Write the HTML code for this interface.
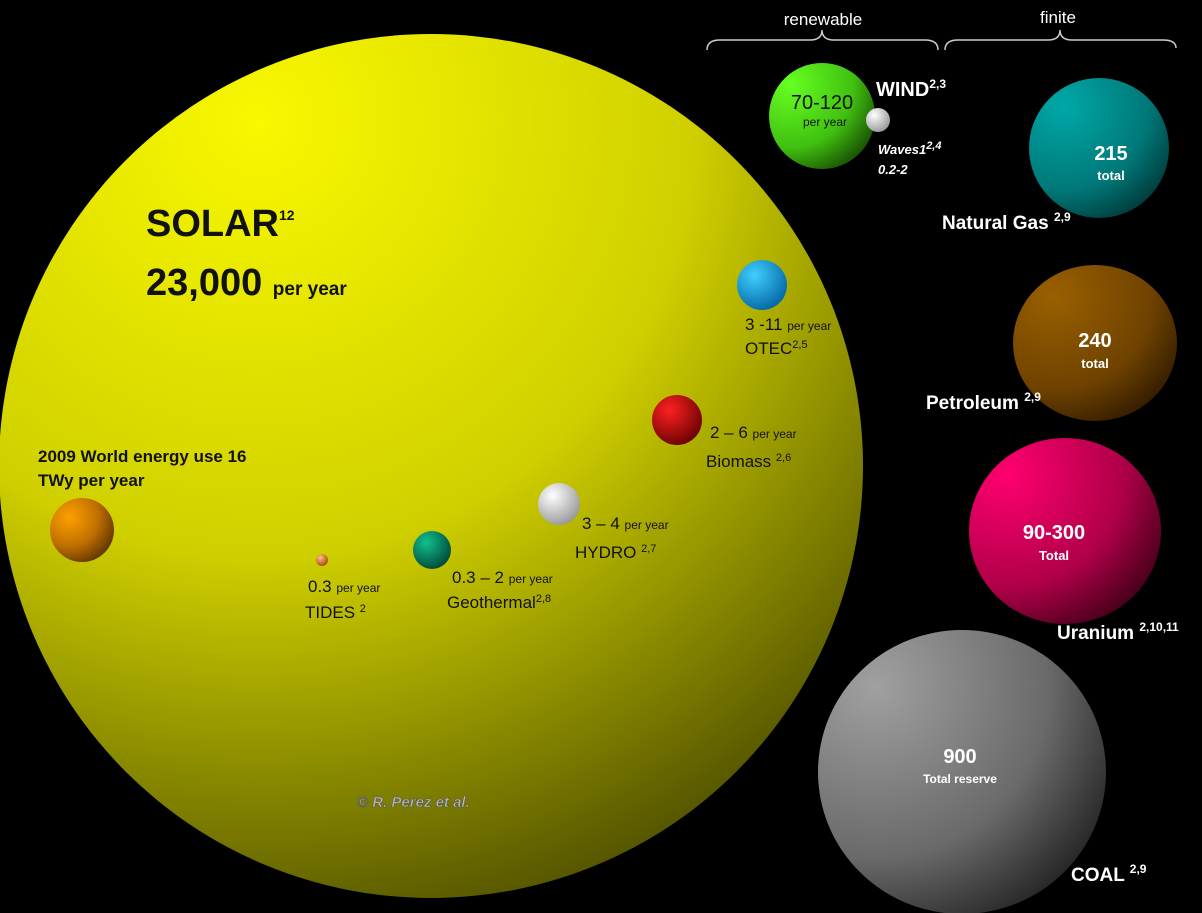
<!DOCTYPE html>
<html><head><meta charset="utf-8"><style>
html,body{margin:0;padding:0;background:#000;width:1202px;height:913px;overflow:hidden}
svg{display:block}
text{font-family:"Liberation Sans",sans-serif}
</style></head><body>
<svg width="1202" height="913" viewBox="0 0 1202 913">
<defs>
<radialGradient id="gs" cx="0.3" cy="0.1" r="1"><stop offset="0" stop-color="#f8f800"/><stop offset="0.5" stop-color="#d0d000"/><stop offset="1" stop-color="#484800"/></radialGradient>
<radialGradient id="gw" cx="0.2" cy="0.2" r="1"><stop offset="0" stop-color="#66ff22"/><stop offset="0.6" stop-color="#40c010"/><stop offset="1" stop-color="#103800"/></radialGradient>
<radialGradient id="gg" cx="0.25" cy="0.2" r="1"><stop offset="0" stop-color="#00a8a8"/><stop offset="0.6" stop-color="#007878"/><stop offset="1" stop-color="#002828"/></radialGradient>
<radialGradient id="gp" cx="0.25" cy="0.2" r="1"><stop offset="0" stop-color="#9a6000"/><stop offset="0.6" stop-color="#6e4200"/><stop offset="1" stop-color="#201000"/></radialGradient>
<radialGradient id="gu" cx="0.2" cy="0.2" r="1"><stop offset="0" stop-color="#ff0070"/><stop offset="0.6" stop-color="#b00048"/><stop offset="1" stop-color="#300010"/></radialGradient>
<radialGradient id="gc" cx="0.2" cy="0.2" r="1"><stop offset="0" stop-color="#a0a0a0"/><stop offset="0.6" stop-color="#6a6a6a"/><stop offset="1" stop-color="#181818"/></radialGradient>
<radialGradient id="go" cx="0.3" cy="0.3" r="0.9"><stop offset="0" stop-color="#ffa000"/><stop offset="0.5" stop-color="#c07000"/><stop offset="1" stop-color="#402000"/></radialGradient>
<radialGradient id="gb" cx="0.35" cy="0.3" r="0.8"><stop offset="0" stop-color="#40d0ff"/><stop offset="1" stop-color="#0060a0"/></radialGradient>
<radialGradient id="gr" cx="0.35" cy="0.3" r="0.8"><stop offset="0" stop-color="#ff2020"/><stop offset="1" stop-color="#600000"/></radialGradient>
<radialGradient id="gh" cx="0.35" cy="0.3" r="0.8"><stop offset="0" stop-color="#ffffff"/><stop offset="1" stop-color="#909090"/></radialGradient>
<radialGradient id="ge" cx="0.35" cy="0.3" r="0.8"><stop offset="0" stop-color="#10c090"/><stop offset="1" stop-color="#004030"/></radialGradient>
<radialGradient id="gt" cx="0.35" cy="0.3" r="0.8"><stop offset="0" stop-color="#ffc080"/><stop offset="1" stop-color="#a04000"/></radialGradient>
</defs>
<circle cx="431" cy="466" r="432" fill="url(#gs)"/>
<circle cx="822" cy="116" r="53" fill="url(#gw)"/>
<circle cx="878" cy="120" r="12" fill="url(#gh)"/>
<circle cx="1099" cy="148" r="70" fill="url(#gg)"/>
<ellipse cx="1095" cy="343" rx="82" ry="78" fill="url(#gp)"/>
<ellipse cx="1065" cy="531" rx="96" ry="93" fill="url(#gu)"/>
<ellipse cx="962" cy="772" rx="144" ry="142" fill="url(#gc)"/>
<circle cx="82" cy="530" r="32" fill="url(#go)"/>
<circle cx="762" cy="285" r="25" fill="url(#gb)"/>
<circle cx="677" cy="420" r="25" fill="url(#gr)"/>
<circle cx="559" cy="504" r="21" fill="url(#gh)"/>
<circle cx="432" cy="550" r="19" fill="url(#ge)"/>
<circle cx="322" cy="560" r="6" fill="url(#gt)"/>
<g fill="none" stroke="#ccc" stroke-width="1.5">
<path d="M707 50 Q707 40 720 40 L810 40 Q822 40 822 30 Q822 40 834 40 L925 40 Q938 40 938 50"/>
<path d="M945 50 Q945 40 958 40 L1048 40 Q1060 40 1060 30 Q1060 40 1072 40 L1163 40 Q1176 40 1176 48"/>
</g>
<g fill="#fff">
<text x="823" y="25" font-size="17" text-anchor="middle">renewable</text>
<text x="1058" y="23" font-size="17" text-anchor="middle">finite</text>
<text x="876" y="96" font-size="20" font-weight="bold">WIND<tspan font-size="12" dy="-8">2,3</tspan></text>
<text x="878" y="154" font-size="13" font-weight="bold" font-style="italic">Waves1<tspan font-size="11" dy="-5">2,4</tspan></text>
<text x="878" y="174" font-size="13" font-weight="bold" font-style="italic">0.2-2</text>
<text x="1111" y="160" font-size="20" font-weight="bold" text-anchor="middle">215</text>
<text x="1111" y="180" font-size="13" font-weight="bold" text-anchor="middle">total</text>
<text x="942" y="229" font-size="19" font-weight="bold">Natural Gas <tspan font-size="12" dy="-8">2,9</tspan></text>
<text x="1095" y="347" font-size="20" font-weight="bold" text-anchor="middle">240</text>
<text x="1095" y="368" font-size="13" font-weight="bold" text-anchor="middle">total</text>
<text x="926" y="409" font-size="19" font-weight="bold">Petroleum <tspan font-size="12" dy="-8">2,9</tspan></text>
<text x="1054" y="539" font-size="20" font-weight="bold" text-anchor="middle">90-300</text>
<text x="1054" y="560" font-size="13" font-weight="bold" text-anchor="middle">Total</text>
<text x="1057" y="639" font-size="19" font-weight="bold">Uranium <tspan font-size="12" dy="-8">2,10,11</tspan></text>
<text x="960" y="763" font-size="20" font-weight="bold" text-anchor="middle">900</text>
<text x="960" y="783" font-size="12" font-weight="bold" text-anchor="middle">Total reserve</text>
<text x="1071" y="881" font-size="19" font-weight="bold">COAL <tspan font-size="12" dy="-8">2,9</tspan></text>
</g>
<g fill="#111">
<text x="822" y="109" font-size="20" text-anchor="middle">70-120</text>
<text x="825" y="126" font-size="12" text-anchor="middle">per year</text>
<text x="146" y="236" font-size="38" font-weight="bold">SOLAR<tspan font-size="14" dy="-16">12</tspan></text>
<text x="146" y="295" font-size="38" font-weight="bold">23,000 <tspan font-size="19">per year</tspan></text>
<text x="38" y="462" font-size="17" font-weight="bold">2009 World energy use 16</text>
<text x="38" y="486" font-size="17" font-weight="bold">TWy  per year</text>
<text x="745" y="330" font-size="17">3 -11 <tspan font-size="12">per year</tspan></text>
<text x="745" y="354" font-size="17">OTEC<tspan font-size="11" dy="-6">2,5</tspan></text>
<text x="710" y="438" font-size="17">2 – 6 <tspan font-size="12">per year</tspan></text>
<text x="706" y="467" font-size="17">Biomass <tspan font-size="11" dy="-6">2,6</tspan></text>
<text x="582" y="529" font-size="17">3 – 4 <tspan font-size="12">per year</tspan></text>
<text x="575" y="558" font-size="17">HYDRO <tspan font-size="11" dy="-6">2,7</tspan></text>
<text x="452" y="583" font-size="17">0.3 – 2 <tspan font-size="12">per year</tspan></text>
<text x="447" y="608" font-size="17">Geothermal<tspan font-size="11" dy="-6">2,8</tspan></text>
<text x="308" y="592" font-size="17">0.3 <tspan font-size="12">per year</tspan></text>
<text x="305" y="618" font-size="17">TIDES <tspan font-size="11" dy="-6">2</tspan></text>
</g>
<text x="357" y="807" font-size="15" font-weight="bold" font-style="italic" fill="#bbb" stroke="#555" stroke-width="0.6">© R. Perez et al.</text>
</svg>
</body></html>
